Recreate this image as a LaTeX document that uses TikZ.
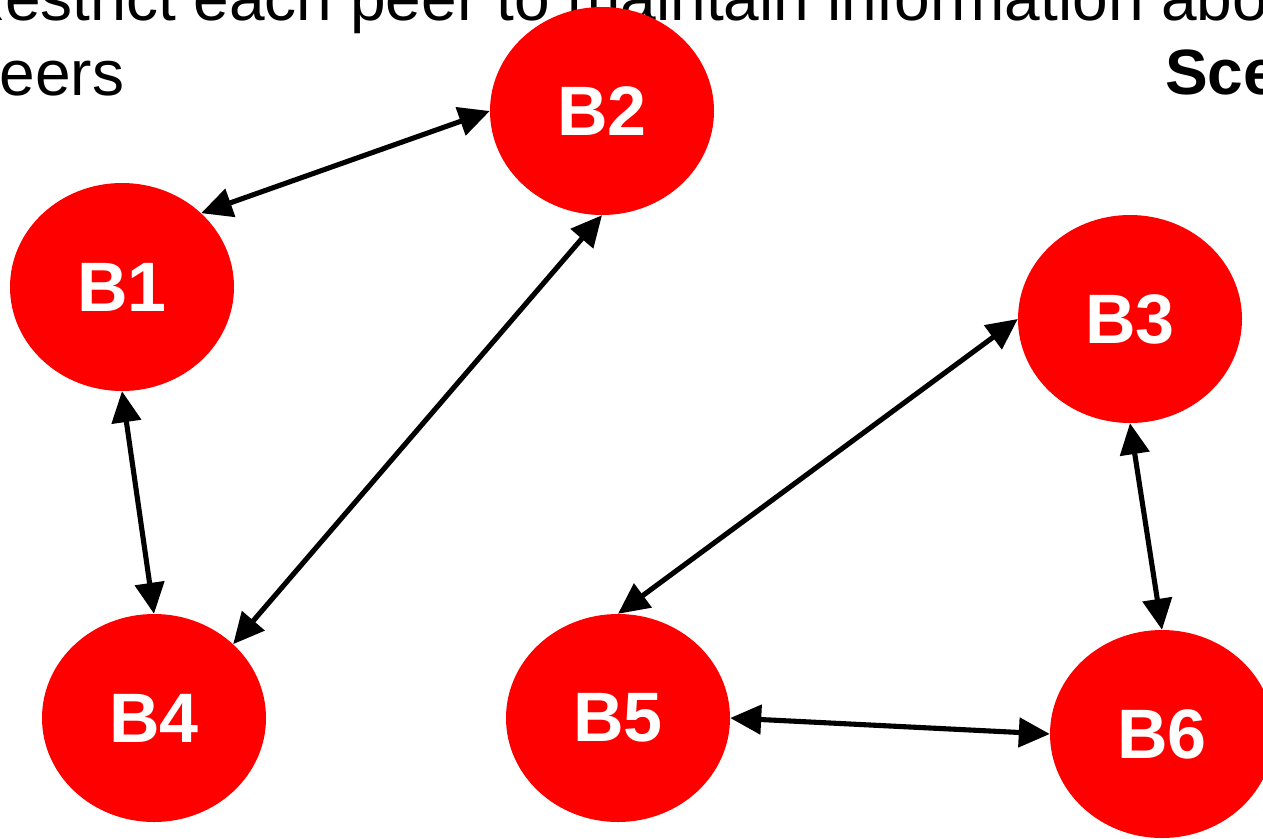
\documentclass[tikz,border=0pt]{standalone}
\usepackage{fontspec}
\setmainfont{Liberation Sans}
\usetikzlibrary{arrows.meta,shapes.geometric}
\begin{document}
\begin{tikzpicture}[x=1pt,y=-1pt,
  peer/.style={ellipse, fill=red, draw=none, inner sep=0pt,
    minimum width=224pt, minimum height=208pt, text=white,
    font=\fontsize{70}{84}\selectfont\bfseries},
  link/.style={line width=5.1pt, draw=black,
    {Triangle[length=31pt,width=29pt]}-{Triangle[length=31pt,width=29pt]}},
  caption/.style={anchor=base west, inner sep=0pt,
    font=\fontsize{64}{75}\selectfont}]
  \useasboundingbox (0,0) rectangle (1263,838);
  \clip (0,0) rectangle (1263,838);
  \fill[white] (0,0) rectangle (1263,838);

  % heading text
  \node[caption] (line1) at (-41,20) {Restrict each peer to maintain information about};
  \node[caption] (line2) at (-36,95) {peers};
  \node[caption, font=\fontsize{64}{75}\selectfont\bfseries] (scen) at (1165,94) {Sce};

  % peers
  \node[peer] (b1) at (122,287) {B1};
  \node[peer] (b2) at (602,111) {B2};
  \node[peer] (b3) at (1130,319) {B3};
  \node[peer] (b4) at (154,718) {B4};
  \node[peer] (b5) at (618,718) {B5};
  \node[peer] (b6) at (1162,734) {B6};

  % links between peers
  \draw[link] (b1.43) -- (b2.west);
  \draw[link] (b1.south) -- (b4.north);
  \draw[link] (b2.south) -- (b4.43);
  \draw[link] (b3.west) -- (b5.north);
  \draw[link] (b3.south) -- (b6.north);
  \draw[link] (b5.east) -- (b6.west);
\end{tikzpicture}
\end{document}
